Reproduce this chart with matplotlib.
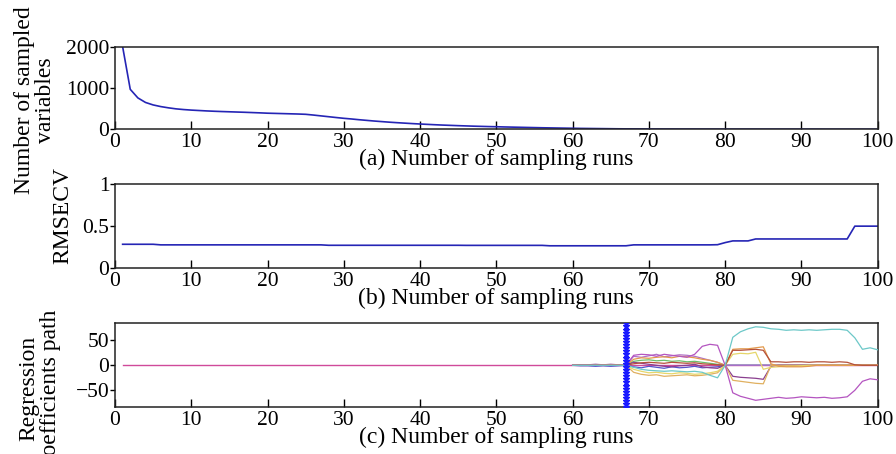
import numpy as np
import matplotlib
matplotlib.use("Agg")
import matplotlib.pyplot as plt

# ---------------- data ----------------
runs = list(range(1, 101))
xticks = [0, 10, 20, 30, 40, 50, 60, 70, 80, 90, 100]

n_sampled_vars = [
    2000, 968, 760, 650, 590, 550, 520, 495, 478, 465,
    455, 445, 437, 430, 424, 418, 412, 405, 398, 390,
    385, 380, 375, 370, 363, 345, 325, 305, 285, 266,
    250, 232, 216, 200, 186, 172, 160, 149, 138, 128,
    119, 110, 102, 95, 88, 82, 76, 71, 66, 62,
    57, 53, 49, 45, 41, 37, 34, 31, 28, 25,
    22, 20, 18, 16, 14, 12, 11, 10, 9, 8,
    8, 7, 7, 6, 6, 6, 5, 5, 5, 4,
    4, 4, 4, 4, 3, 3, 3, 3, 3, 3,
    3, 3, 2, 2, 2, 2, 2, 2, 2, 2,
]

rmsecv = (
    [0.285] * 5 + [0.278] * 22 + [0.273] * 18 + [0.272] * 11 + [0.267] * 11 +
    [0.278] * 11 + [0.28, 0.305, 0.325, 0.325, 0.325] + [0.348] * 13 + [0.50] * 4
)

coef_runs = list(range(60, 101))
#              60 61 62 63 64 65 66 67  68   69   70   71   72   73   74   75   76   77   78   79  80  81   82   83   84   85   86   87   88   89   90   91   92   93   94   95   96   97   98   99  100
coef_cyan   = [0, 0, 0, 0, 0, 0, 0, 0, -4,  -8, -10, -11, -12, -11, -12, -13, -12, -14, -20, -25, 0, 56,  67,  73,  77,  76,  73,  72,  70,  71,  70,  71,  70,  71,  72,  72,  70,  55,  32,  35,  31]
coef_magenta= [0, 0, 0, 0, 0, 0, 0, 0, 20,  22,  21,  18,  22,  20,  18,  16,  22,  38,  42,  40, 0, -55, -62, -66, -70, -68, -66, -64, -66, -65, -63, -64, -65, -64, -66, -65, -63, -50, -32, -27, -29]
coef_orange = [0, 0, 0, 0, 1, 1, 1, 0, 12,  15,  14,  16,  17,  15,  18,  17,  15,  12,  10,   6, 0, 32,  33,  33,  35,  37,   3,  -2,  -3,  -3,  -3,  -2,   0,   0,   0,   0,   0,   0,   0,   0,   0]
coef_red    = [0, 0, 0, 0, 0, 0, 0, 0,  3,   5,   6,   5,   4,   6,   5,   4,   5,   3,   2,   1, 0, 30,  30,  31,  32,  30,   7,   7,   6,   7,   7,   6,   7,   7,   6,   7,   6,   1,   0,   0,   0]
coef_yellow = [0, 0, 0, 0, 0, 0, 0, 0, -8, -12, -15, -14, -16, -17, -15, -16, -18, -17, -15, -12, 0, 22,  24,  23,  26,  -8,  -4,  -3,  -2,  -2,  -1,   0,   0,   0,   0,   0,   0,   0,   0,   0,   0]
coef_purple = [0, 1, 1, 2, 1, 2, 1, 0,  6,   4,   2,   0,  -2,  -3,  -1,   0,   2,  -3,  -5,  -6, 0, -22, -24, -25, -26, -28,  -2,   0,   0,   0,   0,   0,   0,   0,   0,   0,   0,   0,   0,   0,   0]
coef_ochre  = [0, 0, 0, 0, 0, 0, 0, 0, -14, -18, -20, -19, -22, -21, -20, -19, -21, -20, -18, -15, 0, -30, -32, -34, -36, -37,  0,   0,   0,   0,   0,   0,   0,   0,   0,   0,   0,   0,   0,   0,   0]
coef_green  = [0, 0, 0, 0, 0, 0, 0, 0,  8,  10,  11,   9,  10,   8,   9,   7,   8,   6,   4,   2, 0,  0,   0,   0,   0,   0,   0,   0,   0,   0,   0,   0,   0,   0,   0,   0,   0,   0,   0,   0,   0]
coef_blue   = [0, -1, -1, -2, -1, -2, -1, 0, -3, -5,  -2,  -4,  -6,  -3,  -5,  -4,  -2,  -5,  -4,  -3, 0,  0,   0,   0,   0,   0,   0,   0,   0,   0,   0,   0,   0,   0,   0,   0,   0,   0,   0,   0,   0]
coef_violet = [0, 0, 0, 0, 0, 0, 0, 0, 18,  16,  19,  22,  17,  19,  21,  20,  18,  14,  10,   6, 0,  0,   0,   0,   0,   0,   0,   0,   0,   0,   0,   0,   0,   0,   0,   0,   0,   0,   0,   0,   0]
coef_zero   = [0] * 100  # path of variables kept at zero over runs 1-100
optimal_run = 67

coef_series = [
    (coef_green,   "#6cbf6c"),
    (coef_blue,    "#5555cc"),
    (coef_violet,  "#b070c8"),
    (coef_purple,  "#8a3f8f"),
    (coef_ochre,   "#e0b060"),
    (coef_yellow,  "#e6d66a"),
    (coef_orange,  "#e39a4c"),
    (coef_red,     "#b5503a"),
    (coef_magenta, "#b455c0"),
    (coef_cyan,    "#6cc8c8"),
]

# ---------------- style ----------------
plt.rcParams['font.family'] = ['Liberation Serif', 'DejaVu Serif']
plt.rcParams['font.size'] = 15.5
plt.rcParams['axes.linewidth'] = 1.1
LABEL_FS = 17

W_PX, H_PX = 896, 454
fig = plt.figure(figsize=(W_PX / 100, H_PX / 100), dpi=100)

LEFT, RIGHT = 115, 877.7


def make_axes(top_px, bot_px):
    return fig.add_axes([LEFT / W_PX, 1 - bot_px / H_PX,
                         (RIGHT - LEFT) / W_PX, (bot_px - top_px) / H_PX])


axa = make_axes(46.7, 129.3)
axb = make_axes(184.0, 268.3)
axc = make_axes(323.3, 407.3)

line_blue = "#2525b5"

axa.plot(runs, n_sampled_vars, color=line_blue, lw=1.2)
axa.set_ylim(0, 2000)
axa.set_yticks([0, 1000, 2000])

axb.plot(runs, rmsecv, color=line_blue, lw=1.2)
axb.set_ylim(0, 1)
axb.set_yticks([0, 0.5, 1])
axb.set_yticklabels(["0", "0.5", "1"])

axc.plot(runs, coef_zero, color="#d04a9a", lw=1.0, zorder=2)
for vals, col in coef_series:
    axc.plot(coef_runs, vals, color=col, lw=0.9, zorder=3)
axc.set_ylim(-84, 84)
axc.set_yticks([-50, 0, 50])
ylo, yhi = axc.get_ylim()
axc.plot([optimal_run] * 28, np.linspace(ylo, yhi, 28), color="#1a1aff",
         lw=1.2, ls='--', marker="*", markersize=5, zorder=5)

labels = ["(a) Number of sampling runs", "(b) Number of sampling runs",
          "(c) Number of sampling runs"]
for ax, lab in zip([axa, axb, axc], labels):
    ax.set_xlim(0, 100)
    ax.set_xticks(xticks)
    ax.tick_params(axis='x', direction='in', length=6, width=1.0, pad=3,
                   top=False)
    ax.tick_params(axis='y', direction='out', length=3.5, width=1.0, pad=0.5,
                   right=False)
    ax.set_xlabel(lab, fontsize=LABEL_FS)
    h_px = ax.get_position().height * H_PX
    ax.xaxis.set_label_coords(0.5, -30.5 / h_px)
    ax.xaxis.label.set_va('center')
    for s in ax.spines.values():
        s.set_color("#222222")

fig.text(35 / W_PX, 1 - 100 / H_PX, "Number of sampled\nvariables",
         rotation=90, ha='center', va='center', multialignment='center',
         linespacing=1.05, fontsize=LABEL_FS)
fig.text(63 / W_PX, 1 - 216 / H_PX, "RMSECV", rotation=90,
         ha='center', va='center', fontsize=LABEL_FS)
fig.text(40 / W_PX, 1 - 388 / H_PX, "Regression\ncoefficients path",
         rotation=90, ha='center', va='center', multialignment='center',
         linespacing=1.05, fontsize=LABEL_FS)

fig.savefig("out.png", dpi=100)
